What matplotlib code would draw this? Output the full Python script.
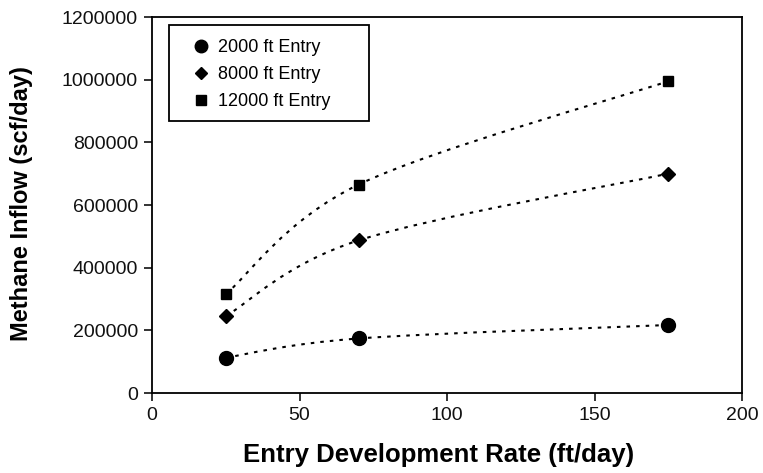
import matplotlib
matplotlib.use("Agg")
import matplotlib.pyplot as plt
import numpy as np
from matplotlib.path import Path
from matplotlib.patches import PathPatch, Rectangle

plt.rcParams["font.family"] = ["Liberation Sans", "DejaVu Sans"]

# --- data ---
rates = [25, 70, 175]
inflow_2000 = [113000, 174000, 217000]
inflow_8000 = [245000, 487000, 700000]
inflow_12000 = [315000, 665000, 995000]

series = [
    ("2000 ft Entry", inflow_2000, "o", 10),
    ("8000 ft Entry", inflow_8000, "D", 7),
    ("12000 ft Entry", inflow_12000, "s", 7.5),
]

W, H = 763, 473


def smooth_path(xs, ys):
    """Excel-style smoothed line: cubic Bezier segments with Catmull-Rom tangents."""
    pts = np.column_stack([xs, ys]).astype(float)
    n = len(pts)
    verts = [pts[0]]
    codes = [Path.MOVETO]
    for i in range(n - 1):
        p0 = pts[max(i - 1, 0)]
        p1 = pts[i]
        p2 = pts[i + 1]
        p3 = pts[min(i + 2, n - 1)]
        c1 = p1 + (p2 - p0) / 6.0
        c2 = p2 - (p3 - p1) / 6.0
        verts += [c1, c2, p2]
        codes += [Path.CURVE4] * 3
    return Path(verts, codes)


fig = plt.figure(figsize=(W / 100, H / 100), dpi=100)
ax = fig.add_axes([152 / W, 80 / H, 590 / W, 376 / H])

for label, vals, marker, size in series:
    patch = PathPatch(
        smooth_path(rates, vals),
        facecolor="none",
        edgecolor="black",
        lw=1.5,
        linestyle=(0, (1.7, 2.9)),
        transform=ax.transData,
    )
    ax.add_patch(patch)
    ax.plot(rates, vals, linestyle="none", marker=marker, markersize=size,
            color="black", label=label, zorder=3)

ax.set_xlim(0, 200)
ax.set_ylim(0, 1200000)
ax.set_xticks([0, 50, 100, 150, 200])
ax.set_yticks(np.arange(0, 1200001, 200000))
ax.yaxis.set_major_formatter(matplotlib.ticker.FuncFormatter(lambda v, p: f"{int(v)}"))
ax.tick_params(direction="out", length=6, width=1.2, labelsize=14, pad=4, colors="#111111")
ax.tick_params(axis="x", pad=4)
ax.tick_params(top=False, right=False)
for s in ax.spines.values():
    s.set_linewidth(1.3)

ax.set_xlabel("Entry Development Rate (ft/day)", fontsize=18.5, fontweight="bold", va="center")
ax.xaxis.set_label_coords(0.485, -(455 - 393) / 376)
ax.set_ylabel("Methane Inflow (scf/day)", fontsize=17, fontweight="bold", va="center")
ax.yaxis.set_label_coords((22 - 152) / 590, 0.503)

# legend entries without frame; frame drawn as its own box like the reference
leg = ax.legend(loc="upper left", bbox_to_anchor=(194 / W, 1 - 39 / H),
                bbox_transform=fig.transFigure, fontsize=13, frameon=False,
                handlelength=0.8, handletextpad=0.55, borderpad=0, labelspacing=0.56,
                markerscale=0.9, borderaxespad=0)
fig.patches.append(Rectangle((169 / W, 1 - 121 / H), 200 / W, 96 / H,
                             transform=fig.transFigure, fill=False,
                             edgecolor="black", lw=1.3))

fig.savefig("out.png", dpi=100)
